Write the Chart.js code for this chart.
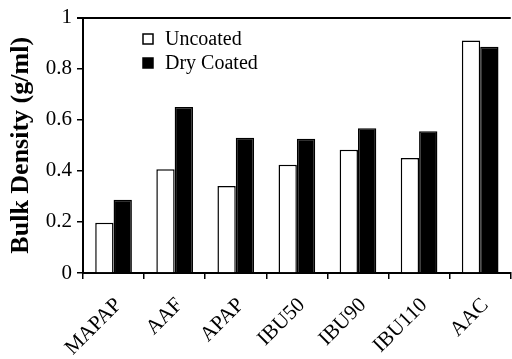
<!DOCTYPE html>
<html>
<head>
<meta charset="utf-8">
<script src="https://cdn.jsdelivr.net/npm/chart.js@4"></script>
<style>
html,body{margin:0;padding:0;background:#fff;}
#wrap{width:512px;height:359px;position:relative;}
</style>
</head>
<body>
<div id="wrap"><canvas id="c" width="512" height="359"></canvas></div>
<script>
const categories = ['MAPAP', 'AAF', 'APAP', 'IBU50', 'IBU90', 'IBU110', 'AAC'];
const uncoated = [0.197, 0.406, 0.341, 0.424, 0.483, 0.450, 0.910];
const dryCoated = [0.287, 0.650, 0.530, 0.526, 0.567, 0.555, 0.886];
const seriesLabels = ['Uncoated', 'Dry Coated'];
const yTitle = 'Bulk Density (g/ml)';

const SERIF = '"Liberation Serif", "Times New Roman", serif';

const legendPlugin = {
  id: 'insideLegend',
  afterDraw(chart) {
    const ctx = chart.ctx;
    ctx.save();
    ctx.font = '20px ' + SERIF;
    ctx.textBaseline = 'middle';
    ctx.textAlign = 'left';
    const x0 = 143, ys = [39, 63];
    chart.data.datasets.forEach((ds, i) => {
      const y = ys[i];
      ctx.fillStyle = ds.backgroundColor;
      ctx.fillRect(x0, y - 5, 10, 10);
      ctx.strokeStyle = '#000';
      ctx.lineWidth = 1.5;
      ctx.strokeRect(x0, y - 5, 10, 10);
      ctx.fillStyle = '#000';
      ctx.fillText(ds.label, 165, y + 1);
    });
    ctx.restore();
  }
};

new Chart(document.getElementById('c'), {
  type: 'bar',
  data: {
    labels: categories,
    datasets: [
      { label: seriesLabels[0], data: uncoated, backgroundColor: '#ffffff', borderColor: '#000', borderWidth: 1.5 },
      { label: seriesLabels[1], data: dryCoated, backgroundColor: '#000000', borderColor: '#000', borderWidth: 1.5 }
    ]
  },
  options: {
    responsive: false,
    animation: false,
    devicePixelRatio: 1,
    layout: { padding: { top: 15, right: 0, bottom: 0, left: 0 } },
    plugins: { legend: { display: false }, tooltip: { enabled: false } },
    datasets: { bar: { categoryPercentage: 0.6, barPercentage: 1.0 } },
    scales: {
      x: {
        offset: true,
        grid: { offset: true, drawOnChartArea: false, tickLength: 6, color: '#000', lineWidth: 1.5 },
        border: { display: true, color: '#000', width: 2 },
        ticks: { color: '#000', font: { family: SERIF, size: 21 }, minRotation: 45, maxRotation: 45, padding: 14, labelOffset: 5 },
        afterFit(s) { s.height = 86; }
      },
      y: {
        min: 0, max: 1,
        ticks: { stepSize: 0.2, color: '#000', font: { family: SERIF, size: 21 }, padding: 5,
          callback: v => (Math.round(v * 10) / 10).toString() },
        grid: {
          drawOnChartArea: true, tickLength: 6,
          color: c => (c.tick && Math.abs(c.tick.value - 1) < 1e-9) ? '#000' : 'rgba(0,0,0,0)',
          tickColor: '#000',
          lineWidth: c => (c.tick && Math.abs(c.tick.value - 1) < 1e-9) ? 2 : 1.5
        },
        border: { display: true, color: '#000', width: 2 },
        title: { display: true, text: yTitle, color: '#000', font: { family: SERIF, size: 26, weight: 'bold' }, padding: { top: 6, bottom: 0 } },
        afterFit(s) { s.width = 83; }
      }
    }
  },
  plugins: [legendPlugin]
});
</script>
</body>
</html>
